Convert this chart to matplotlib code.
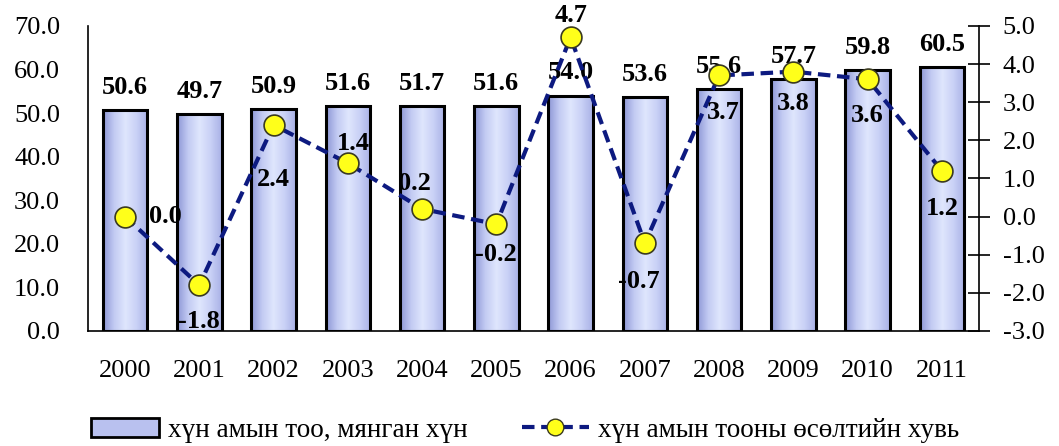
import matplotlib.pyplot as plt
import numpy as np
from matplotlib.colors import LinearSegmentedColormap
from matplotlib.lines import Line2D
from matplotlib.patches import Patch

years = ['2000', '2001', '2002', '2003', '2004', '2005',
         '2006', '2007', '2008', '2009', '2010', '2011']
population = [50.6, 49.7, 50.9, 51.6, 51.7, 51.6, 54.0, 53.6, 55.6, 57.7, 59.8, 60.5]
growth = [0.0, -1.8, 2.4, 1.4, 0.2, -0.2, 4.7, -0.7, 3.7, 3.8, 3.6, 1.2]
bar_label_txt = 'хүн амын тоо, мянган хүн'
line_label_txt = 'хүн амын тооны өсөлтийн хувь'

# label offsets for the growth line (pixels)
growth_offsets = [(40, 0), (0, -36), (0, -54), (6, 20), (-8, 25), (0, -30),
                  (0, 22), (-6, -38), (4, -37), (0, -32), (0, -36), (0, -38)]

serif = ['Liberation Serif', 'DejaVu Serif']
plt.rcParams['font.family'] = serif
fs = 19

fig = plt.figure(figsize=(10.59, 4.46), dpi=100)
ax = fig.add_axes([0.083, 0.258, 0.8415, 0.684])
ax2 = ax.twinx()

x = np.arange(len(years))
bars = ax.bar(x, population, width=0.6, color='none', edgecolor='black',
              linewidth=2.2, zorder=3)

grad = LinearSegmentedColormap.from_list(
    'g', ['#8e97d6', '#c3cbf3', '#dfe6fd', '#c9d1f6', '#a9b1e6'])
gimg = np.linspace(0, 1, 100).reshape(1, -1)
for b in bars:
    x0, y0 = b.get_x(), b.get_y()
    im = ax.imshow(gimg, cmap=grad, aspect='auto', zorder=2,
                   extent=[x0, x0 + b.get_width(), y0, y0 + b.get_height()])
    im.set_clip_path(b)

for xi, v in zip(x, population):
    ax.annotate(f'{v:.1f}', (xi, v), xytext=(0, 8), textcoords='offset points',
                ha='center', va='bottom', fontsize=fs, fontweight='bold', zorder=4)

ax.set_xlim(-0.5, len(years) - 0.5)
ax.set_ylim(0, 70)
ax.set_yticks(np.arange(0, 71, 10))
ax.set_yticklabels([f'{t:.1f}' for t in np.arange(0, 71, 10)])
ax.set_xticks(x)
ax.set_xticklabels(years)
ax.tick_params(axis='y', length=0, pad=20, labelsize=fs)
ax.tick_params(axis='x', length=0, pad=21, labelsize=fs)
for s in ['top', 'right']:
    ax.spines[s].set_visible(False)
ax.spines['left'].set_linewidth(1.2)
ax.spines['bottom'].set_linewidth(1.2)

ax2.plot(x, growth, color='#0d1a80', linestyle=(0, (3, 1.6)), linewidth=3,
         marker='o', markersize=15, markerfacecolor='#ffff1a',
         markeredgecolor='#3a3a20', markeredgewidth=1.2, zorder=5)
for xi, v, (dx, dy) in zip(x, growth, growth_offsets):
    ax2.annotate(f'{v:.1f}', (xi, v), xytext=(dx * 0.72, dy * 0.72),
                 textcoords='offset points', ha='center', va='center',
                 fontsize=fs, fontweight='bold', zorder=6)
ax2.set_ylim(-3, 5)
ax2.set_yticks(np.arange(-3, 5.1, 1))
ax2.set_yticklabels([f'{t:.1f}' for t in np.arange(-3, 5.1, 1)])
ax2.tick_params(axis='y', direction='inout', length=16, width=1.2, pad=9, labelsize=fs)
for s in ['top', 'left', 'bottom']:
    ax2.spines[s].set_visible(False)
ax2.spines['right'].set_linewidth(1.2)

handles = [Patch(facecolor='#b9c1ef', edgecolor='black', linewidth=2),
           Line2D([0], [0], color='#0d1a80', linestyle=(0, (3, 1.6)), linewidth=3,
                  marker='o', markersize=12, markerfacecolor='#ffff1a',
                  markeredgecolor='#3a3a20')]
fig.legend(handles, [bar_label_txt, line_label_txt], loc='center',
           bbox_to_anchor=(0.496, 0.035), ncol=2, frameon=False, fontsize=19.5,
           handlelength=2.5, columnspacing=2.0, handletextpad=0.32,
           borderpad=0, borderaxespad=0)

fig.savefig('out.png', dpi=100)
